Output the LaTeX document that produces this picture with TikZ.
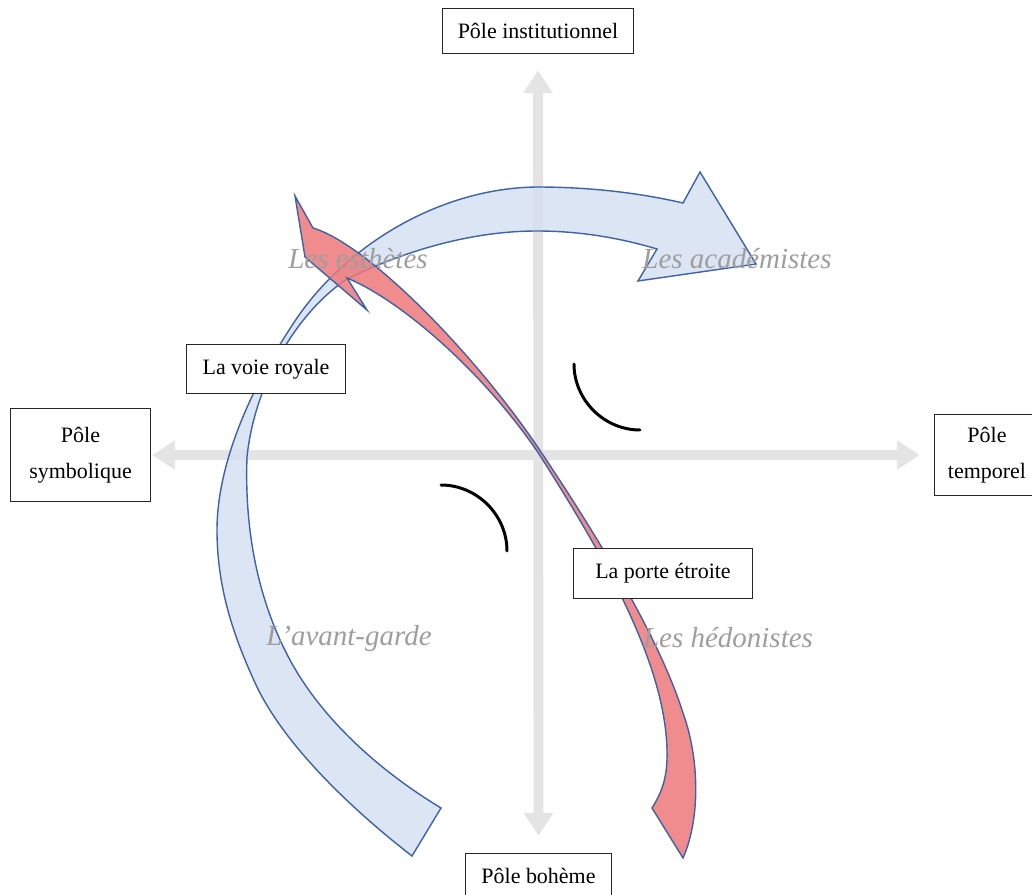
\documentclass[tikz,border=0pt]{standalone}
\usepackage{fontspec}
\setmainfont{Liberation Serif}
\usetikzlibrary{arrows.meta}
\definecolor{axisgray}{RGB}{228,228,228}
\definecolor{bandblue}{RGB}{214,224,241}
\definecolor{bandred}{RGB}{238,120,122}
\definecolor{edgeblue}{RGB}{62,98,168}
\definecolor{typegray}{RGB}{158,158,158}

\begin{document}
\begin{tikzpicture}[x=0.02cm,y=-0.02cm,
  pole/.style={draw=black!85,line width=0.6pt,fill=white,inner sep=0pt,align=center,
    font=\fontsize{12.5}{20.5}\selectfont},
  type/.style={text=typegray,font=\fontsize{16.5}{20}\selectfont\itshape},
  axis/.style={axisgray,line width=5.6pt,
    {Triangle[width=16pt,length=13pt]}-{Triangle[width=16pt,length=13pt]}},
  band/.style={draw=edgeblue,line width=0.8pt,fill=bandblue,fill opacity=0.85},
  path/.style={draw=edgeblue,line width=0.8pt,fill=bandred,fill opacity=0.85},
  mark arc/.style={line width=1.7pt,line cap=round}]
\useasboundingbox (0,0) rectangle (1032,895);

\node[pole,minimum width=108.9pt,minimum height=26.1pt] (inst) at (538,31) {Pôle institutionnel};
\node[pole,minimum width=80pt,minimum height=53.3pt] (symb) at (80.5,455) {Pôle\\symbolique};
\node[pole,minimum width=60pt,minimum height=46.5pt] (temp) at (987,455) {Pôle\\temporel};
\node[pole,minimum width=83.4pt,minimum height=26.1pt] (boh) at (538.5,876) {Pôle bohème};

\draw[axis,shorten <=9pt,shorten >=9.6pt] (inst.south) -- (boh.north);
\draw[axis,shorten <=0.5pt,shorten >=8pt] (symb.east) -- (temp.west);

\draw[mark arc] (574,364) .. controls (574,400) and (604,430) .. (640,430);
\draw[mark arc] (441,485) .. controls (477,485) and (507,515) .. (507,551);

\filldraw[band] (412,856) .. controls (350,808) and (285,745) .. (257,687)
  .. controls (235,640) and (217,590) .. (217,530)
  .. controls (217,460) and (255,380) .. (297,318)
  .. controls (347,245) and (440,188) .. (537,187)
  .. controls (590,187) and (640,193) .. (683,203)
  -- (700,172) -- (756,264) -- (638,281) -- (657,249)
  .. controls (620,238) and (580,231) .. (537,231)
  .. controls (460,231) and (390,258) .. (347,279)
  .. controls (300,310) and (255,380) .. (247,457)
  .. controls (244,540) and (262,608) .. (290,660)
  .. controls (318,712) and (370,765) .. (441,808) -- cycle;

\filldraw[path] (313,228) -- (295,196) -- (305,257) -- (367,310) -- (347,278)
  .. controls (400,300) and (482,370) .. (539,454)
  .. controls (600,550) and (665,660) .. (667,750)
  .. controls (668,780) and (660,795) .. (652,808)
  -- (683,858)
  .. controls (700,820) and (700,760) .. (683,713)
  .. controls (660,640) and (600,540) .. (541,452)
  .. controls (480,360) and (370,245) .. (313,228) -- cycle;

\node[type] (esth) at (358,259) {Les esthètes};
\node[type] (acad) at (737,259) {Les académistes};
\node[type] (avant) at (349,639) {L’avant-garde};
\node[type] (hedo) at (728,638) {Les hédonistes};

\node[pole,minimum width=90.7pt,minimum height=28.4pt] (voie) at (266,369) {La voie royale};
\node[pole,minimum width=102pt,minimum height=28.9pt] (porte) at (663,573.5) {La porte étroite};
\end{tikzpicture}
\end{document}
